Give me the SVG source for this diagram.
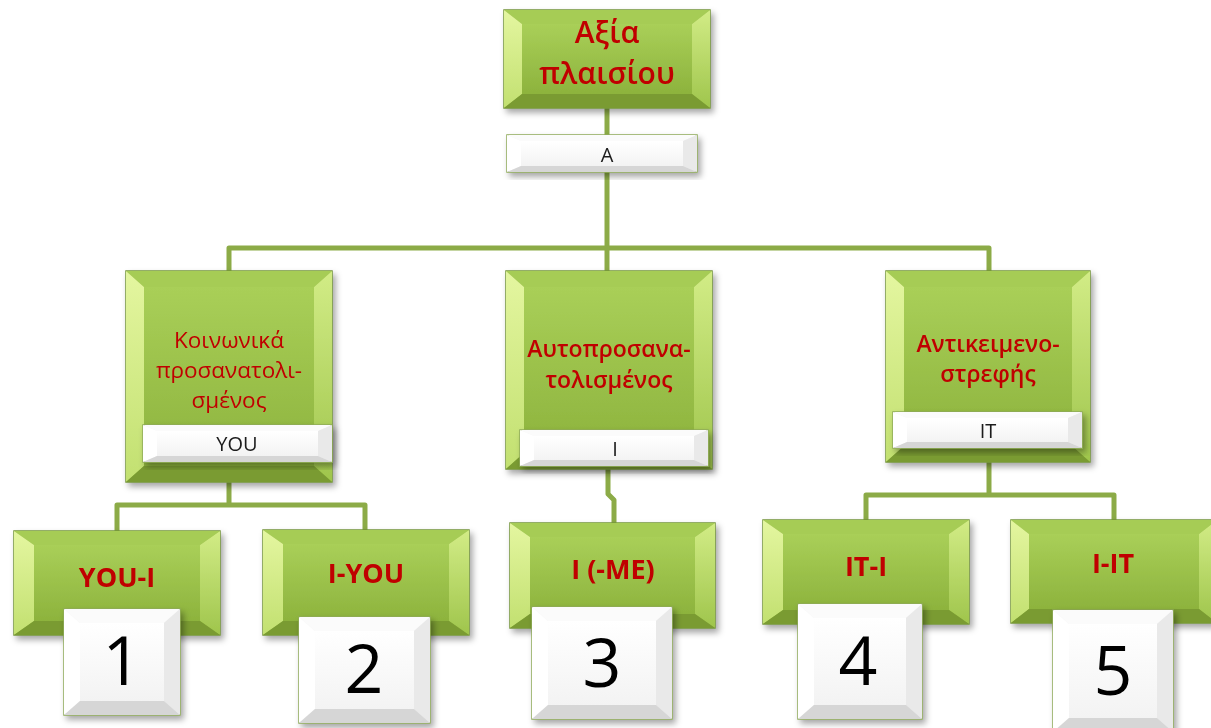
<svg xmlns="http://www.w3.org/2000/svg" width="1211" height="728" viewBox="0 0 1211 728">
<defs>
<linearGradient id="gFace" x1="0" y1="0" x2="0" y2="1"><stop offset="0" stop-color="#a9cf58"/><stop offset="1" stop-color="#8db33d"/></linearGradient>
<linearGradient id="gLeft" x1="0" y1="0" x2="0" y2="1"><stop offset="0" stop-color="#e4f6a0"/><stop offset="1" stop-color="#c2e070"/></linearGradient>
<linearGradient id="gRight" x1="0" y1="0" x2="0" y2="1"><stop offset="0" stop-color="#d2ec86"/><stop offset="1" stop-color="#9fc54c"/></linearGradient>
<linearGradient id="wFace" x1="0" y1="0" x2="0" y2="1"><stop offset="0" stop-color="#ffffff"/><stop offset="1" stop-color="#f3f3f3"/></linearGradient>
<filter id="sh" x="-10%" y="-10%" width="125%" height="130%"><feDropShadow dx="3" dy="4" stdDeviation="3" flood-color="#000" flood-opacity="0.35"/></filter>
</defs>
<style>
.conn{fill:none;stroke:#8cab47;stroke-width:5;stroke-linejoin:round}
.go{fill:#8fb43f;stroke:#74953a;stroke-width:1.5}
.gt{fill:#a6cc55}
.gl{fill:url(#gLeft)}
.gr{fill:url(#gRight)}
.gb{fill:#7a9b32}
.gi{fill:url(#gFace)}
.wo{fill:#f4f4f4;stroke:#8fab58;stroke-width:1.5}
.wt{fill:#fbfbfb}
.wl{fill:#ffffff}
.wr{fill:#e9e9e9}
.wb{fill:#d6d6d6}
.wi{fill:url(#wFace)}
.sh{filter:url(#sh)}
text{font-family:"Open Sans","Noto Sans","DejaVu Sans",sans-serif;text-anchor:middle}
.rt{fill:#c00000}
.t1{font-size:30px;font-weight:600}
.t2{font-size:22.5px}
.t3{font-size:23px;font-weight:600}
.t4{font-size:27px;font-weight:700}
.lb{fill:#1a1a1a;font-size:20px}
.num{fill:#000;font-size:68px}
</style>

<g id="connectors">
<path class="conn" d="M607,108 V248"/>
<path class="conn" d="M229,271 V248 H989 V271"/>
<path class="conn" d="M607,248 V271"/>
<path class="conn" d="M229,482 V505"/>
<path class="conn" d="M117,531 V505 H365 V530"/>
<path class="conn" d="M608,469 V494 L614,500 V523"/>
<path class="conn" d="M989,462 V495"/>
<path class="conn" d="M866,520 V495 H1114 V520"/>
</g>

<g id="node-top" class="sh">
<rect class="go" x="504" y="10" width="206" height="98"/>
<polygon class="gt" points="504,10 710,10 692,24 522,24"/>
<polygon class="gl" points="504,10 522,24 522,94 504,108"/>
<polygon class="gr" points="710,10 710,108 692,94 692,24"/>
<polygon class="gb" points="504,108 710,108 692,94 522,94"/>
<rect class="gi" x="522" y="24" width="170" height="70"/>
<text class="rt t1" x="607" y="43"><tspan x="607" y="43">Αξία</tspan><tspan x="607" y="84">πλαισίου</tspan></text>
</g>

<g id="label-A" class="sh">
<rect class="wo" x="507" y="135" width="190" height="37"/>
<polygon class="wt" points="507,135 697,135 683,141 521,141"/>
<polygon class="wl" points="507,135 521,141 521,166 507,172"/>
<polygon class="wr" points="697,135 697,172 683,166 683,141"/>
<polygon class="wb" points="507,172 697,172 683,166 521,166"/>
<rect class="wi" x="521" y="141" width="162" height="25"/>
<text class="lb" x="607" y="162">A</text>
</g>

<g id="node-you" class="sh">
<rect class="go" x="126" y="271" width="206" height="211"/>
<polygon class="gt" points="126,271 332,271 314,287 144,287"/>
<polygon class="gl" points="126,271 144,287 144,466 126,482"/>
<polygon class="gr" points="332,271 332,482 314,466 314,287"/>
<polygon class="gb" points="126,482 332,482 314,466 144,466"/>
<rect class="gi" x="144" y="287" width="170" height="179"/>
<text class="rt t2" x="229" y="348"><tspan x="229" y="348">Κοινωνικά</tspan><tspan x="229" y="378">προσανατολι-</tspan><tspan x="229" y="408">σμένος</tspan></text>
</g>
<g id="label-you" class="sh">
<rect class="wo" x="143" y="425" width="189" height="37"/>
<polygon class="wt" points="143,425 332,425 318,431 157,431"/>
<polygon class="wl" points="143,425 157,431 157,456 143,462"/>
<polygon class="wr" points="332,425 332,462 318,456 318,431"/>
<polygon class="wb" points="143,462 332,462 318,456 157,456"/>
<rect class="wi" x="157" y="431" width="161" height="25"/>
<text class="lb" x="237" y="451">YOU</text>
</g>

<g id="node-i" class="sh">
<rect class="go" x="506" y="271" width="206" height="198"/>
<polygon class="gt" points="506,271 712,271 694,287 524,287"/>
<polygon class="gl" points="506,271 524,287 524,453 506,469"/>
<polygon class="gr" points="712,271 712,469 694,453 694,287"/>
<polygon class="gb" points="506,469 712,469 694,453 524,453"/>
<rect class="gi" x="524" y="287" width="170" height="166"/>
<text class="rt t3" x="609" y="357"><tspan x="609" y="357">Αυτοπροσανα-</tspan><tspan x="609" y="388">τολισμένος</tspan></text>
</g>
<g id="label-i" class="sh">
<rect class="wo" x="520" y="430" width="188" height="36"/>
<polygon class="wt" points="520,430 708,430 694,436 534,436"/>
<polygon class="wl" points="520,430 534,436 534,460 520,466"/>
<polygon class="wr" points="708,430 708,466 694,460 694,436"/>
<polygon class="wb" points="520,466 708,466 694,460 534,460"/>
<rect class="wi" x="534" y="436" width="160" height="24"/>
<text class="lb" x="615" y="456">I</text>
</g>

<g id="node-it" class="sh">
<rect class="go" x="886" y="271" width="204" height="191"/>
<polygon class="gt" points="886,271 1090,271 1072,287 904,287"/>
<polygon class="gl" points="886,271 904,287 904,446 886,462"/>
<polygon class="gr" points="1090,271 1090,462 1072,446 1072,287"/>
<polygon class="gb" points="886,462 1090,462 1072,446 904,446"/>
<rect class="gi" x="904" y="287" width="168" height="159"/>
<text class="rt t3" x="988" y="352"><tspan x="988" y="352">Αντικειμενο-</tspan><tspan x="988" y="382">στρεφής</tspan></text>
</g>
<g id="label-it" class="sh">
<rect class="wo" x="893" y="412" width="189" height="36"/>
<polygon class="wt" points="893,412 1082,412 1068,418 907,418"/>
<polygon class="wl" points="893,412 907,418 907,442 893,448"/>
<polygon class="wr" points="1082,412 1082,448 1068,442 1068,418"/>
<polygon class="wb" points="893,448 1082,448 1068,442 907,442"/>
<rect class="wi" x="907" y="418" width="161" height="24"/>
<text class="lb" x="988" y="438">IT</text>
</g>

<g id="node-you-i" class="sh">
<rect class="go" x="14" y="531" width="206" height="104"/>
<polygon class="gt" points="14,531 220,531 200,545 34,545"/>
<polygon class="gl" points="14,531 34,545 34,621 14,635"/>
<polygon class="gr" points="220,531 220,635 200,621 200,545"/>
<polygon class="gb" points="14,635 220,635 200,621 34,621"/>
<rect class="gi" x="34" y="545" width="166" height="76"/>
<text class="rt t4" x="117" y="587">YOU-I</text>
</g>
<g id="card-1" class="sh">
<rect class="wo" x="64" y="609" width="116" height="106"/>
<polygon class="wt" points="64,609 180,609 164,623 80,623"/>
<polygon class="wl" points="64,609 80,623 80,701 64,715"/>
<polygon class="wr" points="180,609 180,715 164,701 164,623"/>
<polygon class="wb" points="64,715 180,715 164,701 80,701"/>
<rect class="wi" x="80" y="623" width="84" height="78"/>
<text class="num" x="122" y="685">1</text>
</g>

<g id="node-i-you" class="sh">
<rect class="go" x="263" y="530" width="206" height="105"/>
<polygon class="gt" points="263,530 469,530 449,544 283,544"/>
<polygon class="gl" points="263,530 283,544 283,621 263,635"/>
<polygon class="gr" points="469,530 469,635 449,621 449,544"/>
<polygon class="gb" points="263,635 469,635 449,621 283,621"/>
<rect class="gi" x="283" y="544" width="166" height="77"/>
<text class="rt t4" x="366" y="583">I-YOU</text>
</g>
<g id="card-2" class="sh">
<rect class="wo" x="299" y="617" width="131" height="106"/>
<polygon class="wt" points="299,617 430,617 414,631 315,631"/>
<polygon class="wl" points="299,617 315,631 315,709 299,723"/>
<polygon class="wr" points="430,617 430,723 414,709 414,631"/>
<polygon class="wb" points="299,723 430,723 414,709 315,709"/>
<rect class="wi" x="315" y="631" width="99" height="78"/>
<text class="num" x="364" y="693">2</text>
</g>

<g id="node-i-me" class="sh">
<rect class="go" x="510" y="523" width="205" height="105"/>
<polygon class="gt" points="510,523 715,523 695,537 530,537"/>
<polygon class="gl" points="510,523 530,537 530,614 510,628"/>
<polygon class="gr" points="715,523 715,628 695,614 695,537"/>
<polygon class="gb" points="510,628 715,628 695,614 530,614"/>
<rect class="gi" x="530" y="537" width="165" height="77"/>
<text class="rt t4" x="613" y="579">I (-ME)</text>
</g>
<g id="card-3" class="sh">
<rect class="wo" x="532" y="607" width="140" height="112"/>
<polygon class="wt" points="532,607 672,607 656,621 548,621"/>
<polygon class="wl" points="532,607 548,621 548,705 532,719"/>
<polygon class="wr" points="672,607 672,719 656,705 656,621"/>
<polygon class="wb" points="532,719 672,719 656,705 548,705"/>
<rect class="wi" x="548" y="621" width="108" height="84"/>
<text class="num" x="602" y="687">3</text>
</g>

<g id="node-it-i" class="sh">
<rect class="go" x="763" y="520" width="206" height="104"/>
<polygon class="gt" points="763,520 969,520 949,534 783,534"/>
<polygon class="gl" points="763,520 783,534 783,610 763,624"/>
<polygon class="gr" points="969,520 969,624 949,610 949,534"/>
<polygon class="gb" points="763,624 969,624 949,610 783,610"/>
<rect class="gi" x="783" y="534" width="166" height="76"/>
<text class="rt t4" x="866" y="576">IT-I</text>
</g>
<g id="card-4" class="sh">
<rect class="wo" x="798" y="604" width="124" height="115"/>
<polygon class="wt" points="798,604 922,604 906,618 814,618"/>
<polygon class="wl" points="798,604 814,618 814,705 798,719"/>
<polygon class="wr" points="922,604 922,719 906,705 906,618"/>
<polygon class="wb" points="798,719 922,719 906,705 814,705"/>
<rect class="wi" x="814" y="618" width="92" height="87"/>
<text class="num" x="858" y="685">4</text>
</g>

<g id="node-i-it" class="sh">
<rect class="go" x="1011" y="520" width="206" height="103"/>
<polygon class="gt" points="1011,520 1217,520 1199,534 1029,534"/>
<polygon class="gl" points="1011,520 1029,534 1029,609 1011,623"/>
<polygon class="gr" points="1217,520 1217,623 1199,609 1199,534"/>
<polygon class="gb" points="1011,623 1217,623 1199,609 1029,609"/>
<rect class="gi" x="1029" y="534" width="170" height="75"/>
<text class="rt t4" x="1113" y="573">I-IT</text>
</g>
<g id="card-5" class="sh">
<rect class="wo" x="1053" y="610" width="120" height="122"/>
<polygon class="wt" points="1053,610 1173,610 1157,624 1069,624"/>
<polygon class="wl" points="1053,610 1069,624 1069,718 1053,732"/>
<polygon class="wr" points="1173,610 1173,732 1157,718 1157,624"/>
<polygon class="wb" points="1053,732 1173,732 1157,718 1069,718"/>
<rect class="wi" x="1069" y="624" width="88" height="94"/>
<text class="num" x="1113" y="695">5</text>
</g>
</svg>
